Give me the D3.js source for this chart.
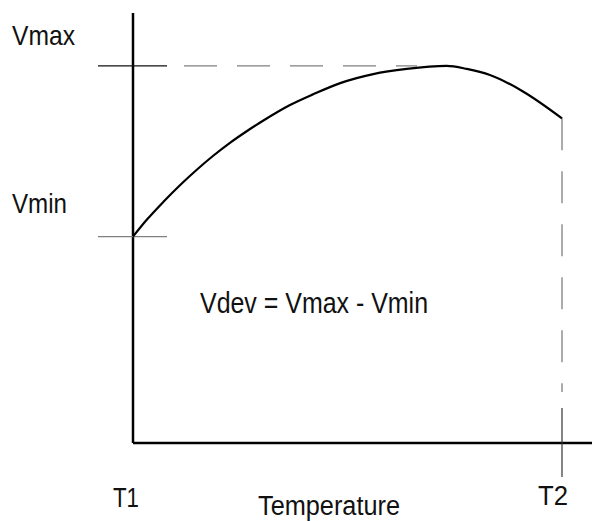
<!DOCTYPE html>
<html>
<head>
<meta charset="utf-8">
<script src="https://cdn.jsdelivr.net/npm/d3@7"></script>
<style>
  html, body { margin: 0; padding: 0; background: #fff; }
  svg { display: block; }
  text { font-family: "Liberation Sans", Arial, sans-serif; fill: #111; }
</style>
</head>
<body>
<svg id="chart" width="592" height="521"></svg>
<script>
// Temperature (T1 = 0 .. T2 = 100), voltage curve in arbitrary units
const temps = [0, 3.2, 7.1, 11.0, 14.8, 18.7, 22.6, 26.5, 30.4, 36.6, 42.0, 48.3, 56.0, 63.8, 73.1, 77.8, 83.2, 91.0, 100];
const volts = [48.0, 51.9, 56.1, 60.0, 63.5, 66.8, 69.8, 72.5, 75.0, 78.6, 81.1, 83.7, 85.8, 87.0, 87.7, 87.0, 85.6, 81.7, 75.5];
const tLabels = ["T1", "T2"];
const tValues = [0, 100];
const vLabels = ["Vmin", "Vmax"];
const vValues = [48.0, 87.7];
const xTitle = "Temperature";
const formula = "Vdev = Vmax - Vmin";

const svg = d3.select("#chart");
const x = d3.scaleLinear().domain([0, 100]).range([133, 562]);
const y = d3.scaleLinear().domain([0, 100]).range([443, 13]);

// Axes (plain lines)
svg.append("line").attr("x1", x(0)).attr("x2", x(0)).attr("y1", y(100)).attr("y2", y(0))
  .attr("stroke", "#000").attr("stroke-width", 2.5);
svg.append("line").attr("x1", x(0)).attr("x2", 592).attr("y1", y(0)).attr("y2", y(0))
  .attr("stroke", "#000").attr("stroke-width", 2.5);

// Vmin tick
svg.append("line").attr("x1", x(0) - 35).attr("x2", x(0) + 34)
  .attr("y1", y(vValues[0])).attr("y2", y(vValues[0]))
  .attr("stroke", "#808080").attr("stroke-width", 1.4);
// Vmax tick
svg.append("line").attr("x1", x(0) - 35).attr("x2", x(0) + 34)
  .attr("y1", y(vValues[1])).attr("y2", y(vValues[1]))
  .attr("stroke", "#111").attr("stroke-width", 1.1);
// Vmax dashed guide
svg.append("line").attr("x1", x(0) + 51).attr("x2", 417)
  .attr("y1", y(vValues[1])).attr("y2", y(vValues[1]))
  .attr("stroke", "#808080").attr("stroke-width", 1.3)
  .attr("stroke-dasharray", "33,20");

// T2 dashed guide
const lastV = volts[volts.length - 1];
svg.append("line").attr("x1", x(100)).attr("x2", x(100))
  .attr("y1", y(lastV)).attr("y2", 392)
  .attr("stroke", "#808080").attr("stroke-width", 1.3)
  .attr("stroke-dasharray", "32,21");
// T2 tick
svg.append("line").attr("x1", x(100)).attr("x2", x(100))
  .attr("y1", 408).attr("y2", 477)
  .attr("stroke", "#333").attr("stroke-width", 1.2);

// Curve
const pts = temps.map((t, i) => [t, volts[i]]);
svg.append("path").datum(pts)
  .attr("d", d3.line().x(d => x(d[0])).y(d => y(d[1])).curve(d3.curveMonotoneX))
  .attr("fill", "none").attr("stroke", "#000").attr("stroke-width", 2.2)
  .attr("stroke-linejoin", "round");

// Texts
function label(txt, tx, ty, w, size) {
  svg.append("text").attr("x", tx).attr("y", ty)
    .attr("font-size", size || 28)
    .attr("textLength", w).attr("lengthAdjust", "spacingAndGlyphs")
    .text(txt);
}
label(vLabels[1], 12, 45, 63);
label(vLabels[0], 12, 213, 55);
label(formula, 200, 313, 228, 29);
label(tLabels[0], 113, 507, 26);
label(tLabels[1], 538, 505, 30);
label(xTitle, 258, 515, 142, 27);
</script>
</body>
</html>
